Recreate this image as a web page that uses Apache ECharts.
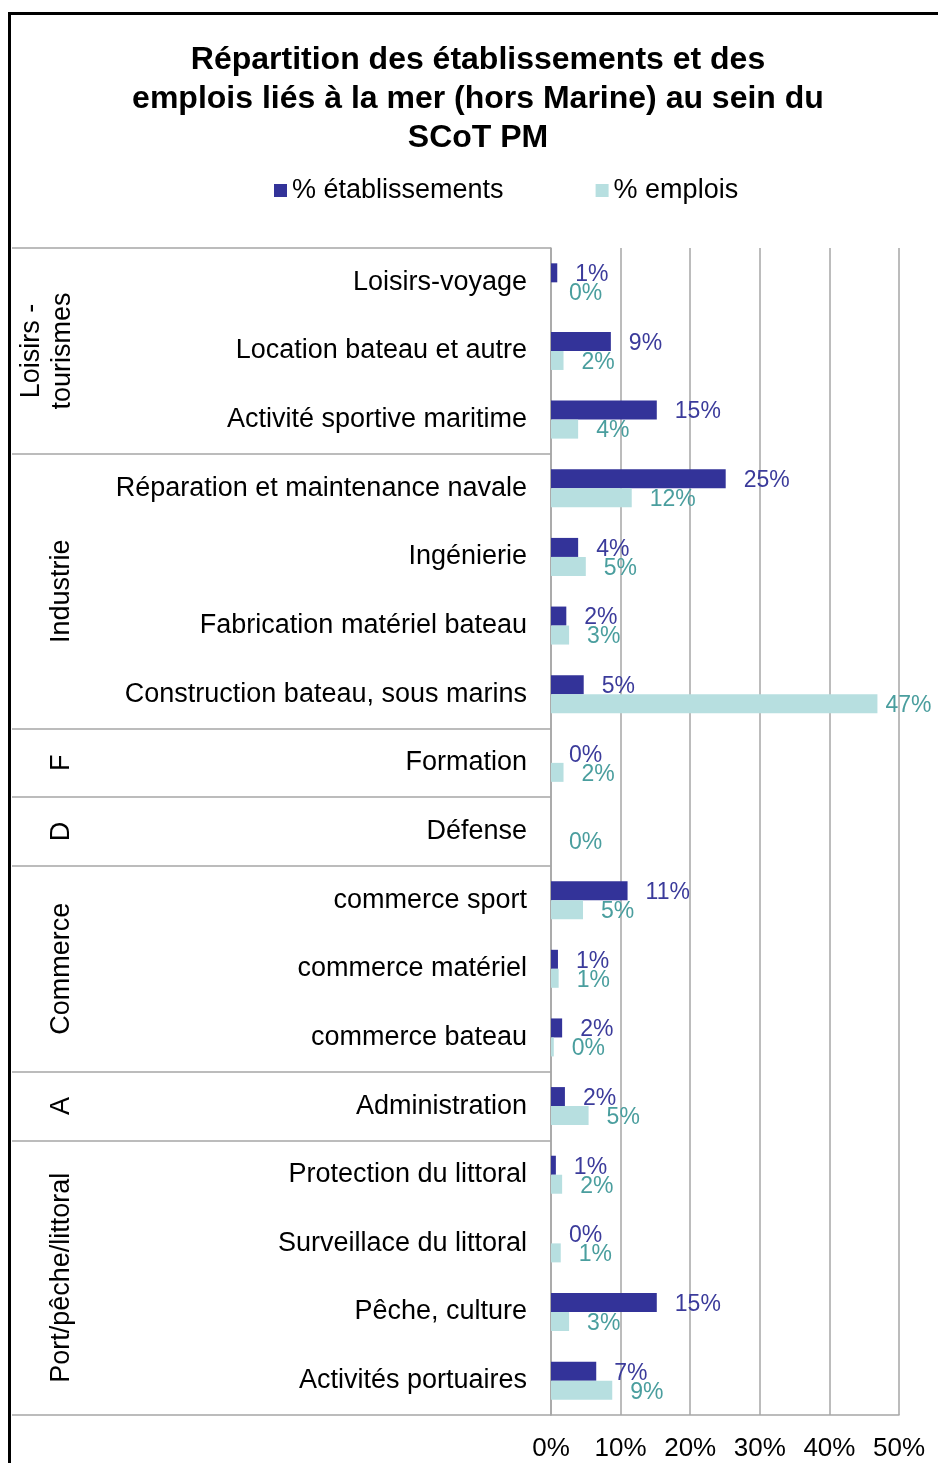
<!DOCTYPE html>
<html>
<head>
<meta charset="utf-8">
<script src="https://cdn.jsdelivr.net/npm/echarts@6/dist/echarts.min.js"></script>
<style>
  html, body { margin: 0; padding: 0; background: #fff; }
  #chart { width: 938px; height: 1463px; }
</style>
</head>
<body>
<div id="chart"></div>
<script>
// libellés des activités, de haut en bas
const categories = [
  'Loisirs-voyage',
  'Location bateau et autre',
  'Activité sportive maritime',
  'Réparation et maintenance navale',
  'Ingénierie',
  'Fabrication matériel bateau',
  'Construction bateau, sous marins',
  'Formation',
  'Défense',
  'commerce sport',
  'commerce matériel',
  'commerce bateau',
  'Administration',
  'Protection du littoral',
  'Surveillace du littoral',
  'Pêche, culture',
  'Activités portuaires'
]

const etablissements = [0.9, 8.6, 15.2, 25.1, 3.9, 2.2, 4.7, 0, null, 11.0, 1.0, 1.6, 2.0, 0.7, 0, 15.2, 6.5]
const emplois = [0, 1.8, 3.9, 11.6, 5.0, 2.6, 46.9, 1.8, 0, 4.6, 1.1, 0.4, 5.4, 1.6, 1.4, 2.6, 8.8]

// regroupements (premier et dernier index de chaque groupe)
const groupNames = ['Loisirs -\ntourismes', 'Industrie', 'F', 'D', 'Commerce', 'A', 'Port/pêche/littoral']
const groupStarts = [0, 3, 7, 8, 9, 12, 13]
const groupEnds = [2, 6, 7, 8, 11, 12, 16]

const xTicks = [0, 10, 20, 30, 40, 50]

const FONT = '"Liberation Sans", Arial, sans-serif'
const GRID_COLOR = '#a6a6a6'

const chart = echarts.init(document.getElementById('chart'))

const pct = p => Math.round(p.value) + '%'

chart.setOption({
  animation: false,
  title: {
    text: 'Répartition des établissements et des\nemplois liés à la mer (hors Marine) au sein du\nSCoT PM',
    left: 478,
    top: 41,
    padding: 0,
    textAlign: 'center',
    textStyle: {
      fontFamily: FONT,
      fontSize: 32,
      fontWeight: 'bold',
      lineHeight: 39,
      color: '#000'
    }
  },
  legend: {
    data: ['% établissements', '% emplois'],
    left: 269,
    top: 172,
    icon: 'rect',
    itemWidth: 13,
    itemHeight: 13,
    itemGap: 92,
    textStyle: { fontFamily: FONT, fontSize: 27, color: '#000' }
  },
  grid: {
    left: 551,
    right: 39,
    top: 248,
    bottom: 48
  },
  xAxis: {
    type: 'value',
    min: xTicks[0],
    max: xTicks[xTicks.length - 1],
    interval: xTicks[1] - xTicks[0],
    axisLine: { show: true, lineStyle: { color: GRID_COLOR, width: 1.5 } },
    axisTick: { show: false },
    splitLine: { show: true, lineStyle: { color: GRID_COLOR, width: 1.5 } },
    axisLabel: {
      formatter: '{value}%',
      fontFamily: FONT,
      fontSize: 26,
      color: '#000',
      margin: 21
    }
  },
  yAxis: {
    type: 'category',
    inverse: true,
    data: categories,
    axisLine: { show: true, lineStyle: { color: GRID_COLOR, width: 1.5 } },
    axisTick: {
      show: true,
      length: 539,
      interval: idx => groupStarts.includes(idx), // séparateurs de groupes
      lineStyle: { color: GRID_COLOR, width: 1.5 }
    },
    axisLabel: {
      interval: 0,
      margin: 24,
      fontFamily: FONT,
      fontSize: 27,
      color: '#000'
    }
  },
  series: [
    {
      name: '% établissements',
      type: 'bar',
      barWidth: 19,
      barGap: '0%',
      itemStyle: { color: '#333399' },
      label: {
        show: true,
        position: 'right',
        distance: 18,
        offset: [0, 2],
        formatter: pct,
        fontFamily: FONT,
        fontSize: 23,
        color: '#3b3b9b'
      },
      data: etablissements
    },
    {
      name: '% emplois',
      type: 'bar',
      barWidth: 19,
      barGap: '0%',
      itemStyle: { color: '#b7dfe0' },
      label: {
        show: true,
        position: 'right',
        distance: 18,
        offset: [0, 2],
        formatter: pct,
        fontFamily: FONT,
        fontSize: 23,
        color: '#4a9e9e'
      },
      // étiquette rapprochée quand la barre touche le bord droit
      data: emplois.map(v => v > 40 ? { value: v, label: { distance: 8 } } : v)
    }
  ]
})

// libellés de groupes, verticaux, centrés sur leurs catégories
const groupLabels = groupNames.map((name, i) => {
  const y0 = chart.convertToPixel({ yAxisIndex: 0 }, categories[groupStarts[i]])
  const y1 = chart.convertToPixel({ yAxisIndex: 0 }, categories[groupEnds[i]])
  const twoLines = name.indexOf('\n') >= 0
  return {
    type: 'text',
    x: twoLines ? 47 : 62,
    y: (y0 + y1) / 2,
    rotation: Math.PI / 2,
    style: {
      text: name,
      font: '27px ' + FONT,
      fill: '#000',
      align: 'center',
      verticalAlign: 'middle',
      textAlign: 'center',
      textVerticalAlign: 'middle',
      lineHeight: 31
    }
  }
})

chart.setOption({
  graphic: [
    {
      type: 'rect',
      shape: { x: 9.5, y: 13.5, width: 1000, height: 1600 },
      style: { fill: 'none', stroke: '#000', lineWidth: 3 }
    }
  ].concat(groupLabels)
})
</script>
</body>
</html>
